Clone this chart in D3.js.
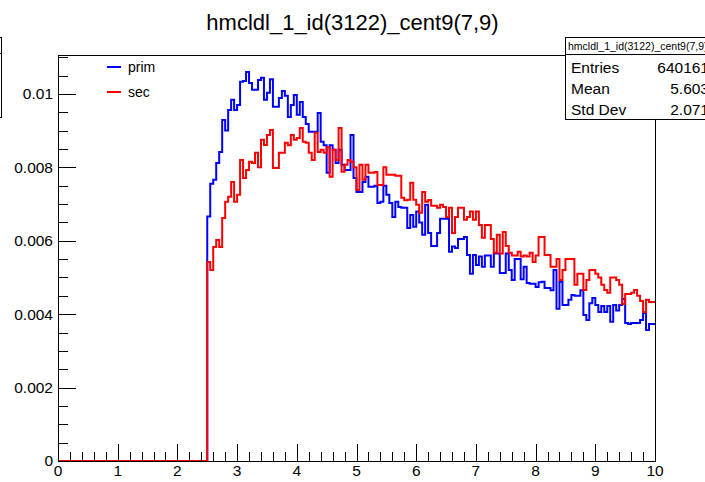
<!DOCTYPE html>
<html>
<head>
<meta charset="utf-8">
<script src="https://cdn.jsdelivr.net/npm/d3@7"></script>
<style>
  body { margin: 0; background: #fff; overflow: hidden; }
  svg { display: block; font-family: "Liberation Sans", Arial, Helvetica, sans-serif; }
</style>
</head>
<body>
<svg id="chart" width="705" height="482"></svg>
<script>
/* histogram: 200 bins on [0,10], filled from 2.5 up */
var title = "hmcldl_1_id(3122)_cent9(7,9)";
var nBins = 200;
var xMin = 0, xMax = 10;
var firstFilled = 50;   // bins below 2.5 are empty

var prim = [
  0.00666, 0.00755, 0.00766, 0.00812, 0.00842, 0.00929, 0.0090, 0.00956, 0.00984, 0.00956,
  0.0097, 0.01033, 0.01035, 0.0106, 0.0103, 0.01011, 0.01011, 0.01038, 0.01044, 0.00984,
  0.01003, 0.0104, 0.00965, 0.00965, 0.00989, 0.01008, 0.00995, 0.00937, 0.0097, 0.00997,
  0.00943, 0.00978, 0.00937, 0.00918, 0.00897,
  0.00897, 0.00897, 0.00948, 0.0087, 0.0086, 0.00785, 0.0086, 0.00848, 0.00812, 0.00848,
  0.00807, 0.00793, 0.00793, 0.00888, 0.00771, 0.00733, 0.00733, 0.0076, 0.00774, 0.00747,
  0.00747, 0.0075, 0.00703, 0.00706, 0.0075, 0.00725, 0.00703, 0.00665, 0.00706, 0.00692,
  0.0069, 0.0069, 0.00635, 0.0067, 0.00638, 0.0068, 0.0065, 0.00616, 0.00698,
  0.00621, 0.00586, 0.00586, 0.00621, 0.0066, 0.0066, 0.0066, 0.0057, 0.00584, 0.0058,
  0.00605, 0.00605, 0.0061, 0.00561, 0.0051, 0.00561, 0.00534, 0.00557, 0.00529, 0.0056,
  0.0056, 0.00529, 0.00565, 0.00565, 0.00512, 0.00512, 0.00565, 0.0052, 0.00493, 0.0055,
  0.0055, 0.00495, 0.00529, 0.00485, 0.00483, 0.00483, 0.00474, 0.00487,
  0.00488, 0.00471, 0.00471, 0.00465, 0.0052, 0.00415, 0.00488, 0.00425, 0.00425, 0.00439,
  0.00452, 0.0045, 0.0045, 0.00465, 0.00398, 0.00384, 0.0043, 0.00444, 0.00425, 0.00406,
  0.00422, 0.00406, 0.00422, 0.00379, 0.00425, 0.0041, 0.00425, 0.00441, 0.00376, 0.00373,
  0.00376, 0.00376, 0.00376, 0.00384, 0.00403, 0.00357, 0.00373, 0.00373
];

var sec = [
  0.00542, 0.0052, 0.00583, 0.00602, 0.00583, 0.00662, 0.00706, 0.0072, 0.0076, 0.00706,
  0.00725, 0.0082, 0.00771, 0.00793, 0.00815, 0.00812, 0.0084, 0.008, 0.00875, 0.00861,
  0.00888, 0.00902, 0.00798, 0.00798, 0.0084, 0.0084, 0.00867, 0.0086, 0.00888, 0.00875,
  0.0088, 0.00907, 0.0087, 0.00867, 0.0084,
  0.0082, 0.00894, 0.00842, 0.00848, 0.0084, 0.00855, 0.00774, 0.00848, 0.0082, 0.00907,
  0.00788, 0.00807, 0.0082, 0.00815, 0.008, 0.00738, 0.00807, 0.00766, 0.00807, 0.00785,
  0.00785, 0.00787, 0.00752, 0.00752, 0.008, 0.0078, 0.0078, 0.0078, 0.00777, 0.00777,
  0.00717, 0.0071, 0.00712, 0.00758, 0.00712, 0.00698, 0.00676, 0.00733, 0.00706,
  0.00711, 0.00695, 0.00695, 0.0069, 0.00698, 0.00692, 0.00665, 0.0069, 0.00621, 0.00665,
  0.0069, 0.0069, 0.00657, 0.00665, 0.0068, 0.00657, 0.0068, 0.00643, 0.00608, 0.00643,
  0.00643, 0.00605, 0.00567, 0.00616, 0.00565, 0.00624, 0.00586, 0.00567, 0.0056, 0.0056,
  0.0057, 0.00557, 0.0056, 0.00557, 0.00567, 0.00542, 0.0056, 0.0061,
  0.0061, 0.00561, 0.00561, 0.00529, 0.00529, 0.0055, 0.00493, 0.0052, 0.0055, 0.0055,
  0.0055, 0.0048, 0.0051, 0.0051, 0.00466, 0.00493, 0.0052, 0.0052, 0.0051, 0.005,
  0.0048, 0.00466, 0.00458, 0.005, 0.005, 0.00493, 0.0048, 0.00428, 0.00455, 0.00455,
  0.00458, 0.00466, 0.0045, 0.00436, 0.00406, 0.00439, 0.00433, 0.00433
];

var series = [
  { name: "prim", values: prim, color: "#0000ff" },
  { name: "sec",  values: sec,  color: "#ff0000" }
];

var xTickLabels = ["0", "1", "2", "3", "4", "5", "6", "7", "8", "9", "10"];
var yTickValues = [0, 0.002, 0.004, 0.006, 0.008, 0.01];
var yTickLabels = ["0", "0.002", "0.004", "0.006", "0.008", "0.01"];

var statNames = ["Entries", "Mean", "Std Dev"];
var statValues = ["640161", "5.603", "2.071"];

/* frame */
var frame = { left: 58, right: 655, top: 55, bottom: 461 };
var yMax = 0.01106;

var svg = d3.select("#chart");

var xScale = d3.scaleLinear().domain([xMin, xMax]).range([frame.left, frame.right]);
var yScale = d3.scaleLinear().domain([0, yMax]).range([frame.bottom, frame.top]);

var binWidth = (xMax - xMin) / nBins;

function fullBins(vals){
    var empty = d3.range(firstFilled).map(() => 0);
    return empty.concat(vals);
}

var stepLine = d3.line()
    .x(d => xScale(d[0]))
    .y(d => yScale(d[1]))
    .curve(d3.curveStepAfter);

/* histograms */
var histG = svg.append("g");
series.forEach(function(s){
    var bins = fullBins(s.values);
    var pts = bins.map((v, i) => [xMin + i * binWidth, v]);
    pts.push([xMax, bins[bins.length - 1]]);
    histG.append("path")
         .attr("d", stepLine(pts))
         .attr("fill", "none")
         .attr("stroke", s.color)
         .attr("stroke-width", 2);
});

/* frame box */
svg.append("rect")
   .attr("x", frame.left + 0.5)
   .attr("y", frame.top + 0.5)
   .attr("width", frame.right - frame.left)
   .attr("height", frame.bottom - frame.top)
   .attr("fill", "none")
   .attr("stroke", "#000")
   .attr("stroke-width", 1);

/* x axis: ticks point up into the frame */
var xAxis = svg.append("g").attr("shape-rendering", "crispEdges");
var xMinor = d3.range(0, 51).map(i => i * 0.2);
xAxis.selectAll("line.minor")
     .data(xMinor)
     .join("line")
     .attr("x1", d => Math.round(xScale(d)) + 0.5)
     .attr("x2", d => Math.round(xScale(d)) + 0.5)
     .attr("y1", frame.bottom)
     .attr("y2", (d, i) => i % 5 === 0 ? frame.bottom - 17 : frame.bottom - 9)
     .attr("stroke", "#000");

xAxis.selectAll("text")
     .data(xTickLabels)
     .join("text")
     .attr("x", (d, i) => xScale(i))
     .attr("y", 476)
     .attr("text-anchor", "middle")
     .style("font-size", "15.5px")
     .text(d => d);

/* y axis: ticks point right into the frame */
var yAxis = svg.append("g").attr("shape-rendering", "crispEdges");
var yMinor = d3.range(0, 23).map(i => i * 0.0005);
yAxis.selectAll("line")
     .data(yMinor)
     .join("line")
     .attr("x1", frame.left)
     .attr("x2", (d, i) => i % 4 === 0 ? frame.left + 18 : frame.left + 10)
     .attr("y1", d => Math.round(yScale(d)) + 0.5)
     .attr("y2", d => Math.round(yScale(d)) + 0.5)
     .attr("stroke", "#000");

yAxis.selectAll("text")
     .data(yTickValues)
     .join("text")
     .attr("x", frame.left - 5)
     .attr("y", d => yScale(d))
     .attr("dy", "0.35em")
     .attr("text-anchor", "end")
     .style("font-size", "15.5px")
     .text((d, i) => yTickLabels[i]);

/* title */
svg.append("text")
   .attr("x", 352.5)
   .attr("y", 30)
   .attr("text-anchor", "middle")
   .style("font-size", "22px")
   .text(title);

/* legend */
var legend = svg.append("g");
series.forEach(function(s, i){
    var ly = 67 + i * 25;
    legend.append("line")
          .attr("x1", 107).attr("x2", 121)
          .attr("y1", ly).attr("y2", ly)
          .attr("stroke", s.color)
          .attr("stroke-width", 2);
    legend.append("text")
          .attr("x", 128)
          .attr("y", ly)
          .attr("dy", "0.35em")
          .style("font-size", "14px")
          .text(s.name);
});

/* stats box, runs off the right edge */
var stats = svg.append("g").attr("shape-rendering", "crispEdges");
stats.append("rect")
     .attr("x", 565.5).attr("y", 37.5)
     .attr("width", 160).attr("height", 82)
     .attr("fill", "#fff")
     .attr("stroke", "#000");
stats.append("line")
     .attr("x1", 565).attr("x2", 726)
     .attr("y1", 54.5).attr("y2", 54.5)
     .attr("stroke", "#000");
stats.append("text")
     .attr("x", 568)
     .attr("y", 46)
     .attr("dy", "0.35em")
     .style("font-size", "10.5px")
     .text(title);
statNames.forEach(function(n, i){
    var sy = 68 + i * 21;
    stats.append("text")
         .attr("x", 571).attr("y", sy).attr("dy", "0.35em")
         .style("font-size", "15.5px")
         .text(n);
    stats.append("text")
         .attr("x", 709).attr("y", sy).attr("dy", "0.35em")
         .attr("text-anchor", "end")
         .style("font-size", "15.5px")
         .text(statValues[i]);
});

/* edge of another box cut off at the left */
var leftBox = svg.append("g").attr("shape-rendering", "crispEdges");
leftBox.append("rect")
       .attr("x", -50.5).attr("y", 37.5)
       .attr("width", 52).attr("height", 80)
       .attr("fill", "#fff")
       .attr("stroke", "#000");
leftBox.append("line")
       .attr("x1", -50).attr("x2", 2)
       .attr("y1", 53.5).attr("y2", 53.5)
       .attr("stroke", "#000");
</script>
</body>
</html>
